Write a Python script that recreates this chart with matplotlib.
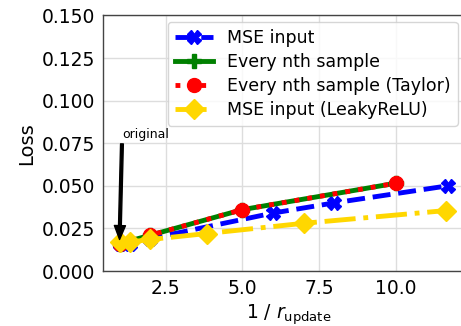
import matplotlib
matplotlib.use("Agg")
import matplotlib.pyplot as plt

# Data
mse_x = [1, 1.33, 2, 6, 8, 11.7]
mse_y = [0.016, 0.016, 0.019, 0.034, 0.040, 0.050]
nth_x = [1, 2, 5, 10]
nth_y = [0.016, 0.021, 0.036, 0.0515]
taylor_x = [1, 2, 5, 10]
taylor_y = [0.016, 0.021, 0.036, 0.0515]
leaky_x = [1, 1.33, 2, 3.84, 7, 11.65]
leaky_y = [0.017, 0.017, 0.0185, 0.022, 0.028, 0.0355]
labels = ["MSE input", "Every nth sample", "Every nth sample (Taylor)", "MSE input (LeakyReLU)"]
xticks = [2.5, 5.0, 7.5, 10.0]
xticklabels = ["2.5", "5.0", "7.5", "10.0"]
yticks = [0.0, 0.025, 0.05, 0.075, 0.1, 0.125, 0.15]
yticklabels = ["0.000", "0.025", "0.050", "0.075", "0.100", "0.125", "0.150"]

fig = plt.figure(figsize=(4.61, 3.26), dpi=100)
ax = fig.add_axes([0.2241, 0.1687, 0.804, 0.784])

ax.plot(mse_x, mse_y, color="blue", ls="--", lw=3.5, marker="X", ms=10, label=labels[0])
ax.plot(nth_x, nth_y, color="green", ls="-", lw=3.5, marker="P", ms=10, label=labels[1])
ax.plot(taylor_x, taylor_y, color="red", ls=":", lw=3.5, marker="o", ms=10, label=labels[2])
ax.plot(leaky_x, leaky_y, color="gold", ls="-.", lw=3.5, marker="D", ms=10, label=labels[3])

ax.annotate("original", xy=(1.0, 0.0185), xytext=(1.08, 0.078),
            fontsize=9, color="black",
            arrowprops=dict(facecolor="black", edgecolor="black", width=2.0, headwidth=8, headlength=10, shrink=0))

ax.set_xlim(0.47, 12.55)
ax.set_ylim(0, 0.15)
ax.set_xticks(xticks)
ax.set_yticks(yticks)
ax.set_xticklabels(xticklabels)
ax.set_yticklabels(yticklabels)
ax.tick_params(labelsize=13.5, length=0, pad=6)
ax.grid(True, color="#dddddd", lw=1)
ax.set_axisbelow(True)
for s in ax.spines.values():
    s.set_color("#444444")
    s.set_linewidth(1.0)
ax.set_xlabel(r"1 / $r_{\mathrm{update}}$", fontsize=13.5, labelpad=3)
ax.set_ylabel("Loss", fontsize=14, labelpad=4)

leg = ax.legend(loc="upper left", bbox_to_anchor=(0.1745, 0.975), fontsize=12.5, frameon=True,
                handlelength=2.2, borderpad=0.4, labelspacing=0.35, borderaxespad=0)
leg.get_frame().set_edgecolor("#cccccc")

fig.savefig("out.png", dpi=100)
